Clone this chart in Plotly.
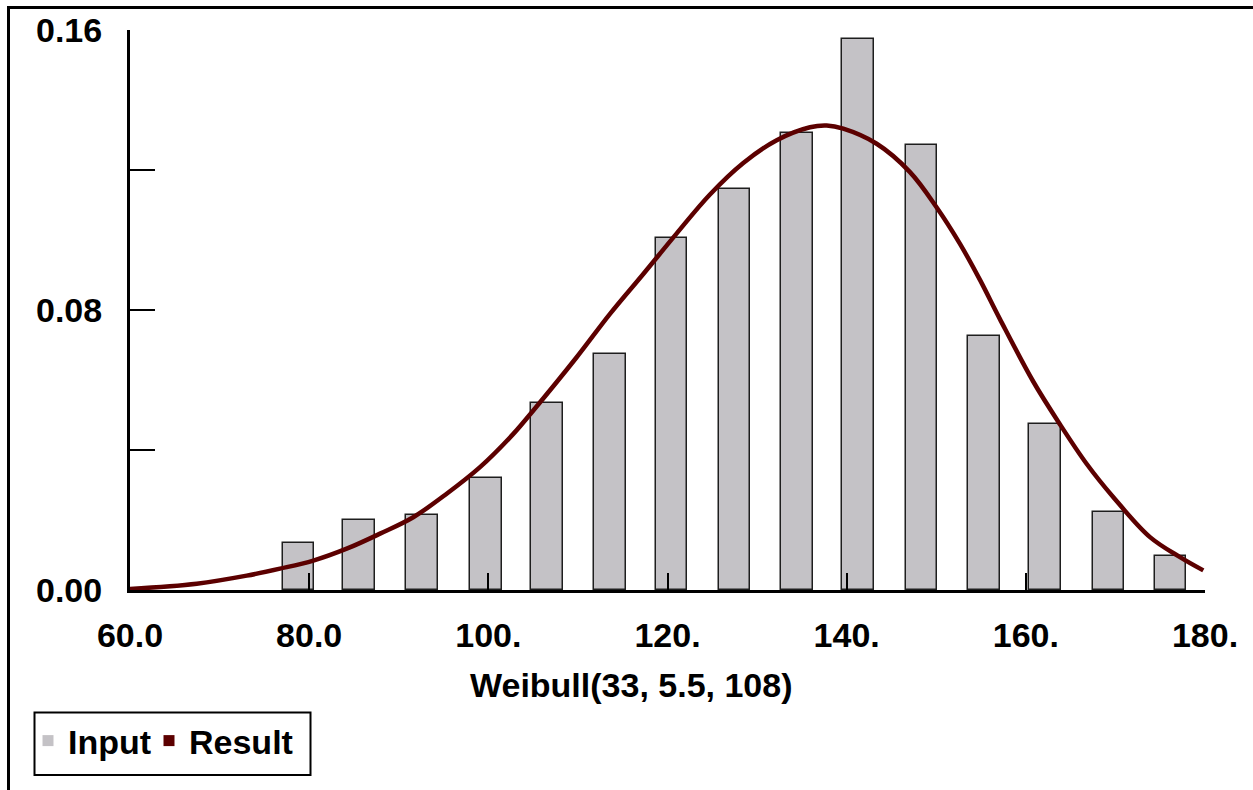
import plotly.graph_objects as go

# ---- data ----
bin_centers = [78.81, 85.56, 92.60, 99.74, 106.55, 113.58, 120.45, 127.48,
               134.46, 141.27, 148.35, 155.33, 162.14, 169.23, 176.15]
input_density = [0.0134, 0.0201, 0.0213, 0.0321, 0.0535, 0.0675, 0.1007, 0.1147,
                 0.1305, 0.1575, 0.1272, 0.0725, 0.0473, 0.0224, 0.0096]

curve_x = [60.0, 67.45, 73.03, 76.74, 80.46, 84.19, 87.91, 91.62, 95.35, 99.07,
           102.79, 105.02, 109.86, 113.58, 117.30, 121.03, 124.74, 128.46, 132.19,
           135.91, 137.77, 139.62, 143.35, 147.07, 150.05, 152.65, 154.88, 157.11,
           160.84, 163.82, 166.80, 169.77, 173.86, 177.21, 179.81]
curve_y = [0.0003, 0.0018, 0.0041, 0.0061, 0.0084, 0.0118, 0.0161, 0.0208, 0.0275,
           0.0351, 0.0446, 0.0513, 0.0665, 0.0789, 0.0903, 0.1019, 0.1130, 0.1220,
           0.1285, 0.1322, 0.1327, 0.1318, 0.1275, 0.1194, 0.1093, 0.0989, 0.0886,
           0.0774, 0.0595, 0.0473, 0.0360, 0.0265, 0.0151, 0.0094, 0.0056]

x_ticks = [60, 80, 100, 120, 140, 160, 180]
x_tick_labels = ["60.0", "80.0", "100.", "120.", "140.", "160.", "180."]
y_ticks = [0.0, 0.04, 0.08, 0.12, 0.16]
y_tick_labels = ["0.00", "", "0.08", "", "0.16"]
x_title = "Weibull(33, 5.5, 108)"
series_names = ["Input", "Result"]

BAR_FILL = "#c4c2c6"
CURVE = "#5c0000"
FONT = dict(family="Liberation Sans, Arial, sans-serif", size=34, color="black", weight="bold")

# layout geometry (pixels)
W, H = 1253, 790
L, R, T, B = 130, 48, 30, 200
PW, PH = W - L - R, H - T - B

def px_x(p):
    return (p - L) / PW

def px_y(p):
    return (H - B - p) / PH

fig = go.Figure()

fig.add_trace(go.Bar(
    x=bin_centers, y=input_density, width=3.5,
    marker=dict(color=BAR_FILL, line=dict(color="#1e1e1e", width=1.5)),
    showlegend=False, name=series_names[0],
))
fig.add_trace(go.Scatter(
    x=curve_x, y=curve_y, mode="lines",
    line=dict(color=CURVE, width=4.5, shape="spline", smoothing=1.0),
    showlegend=False, name=series_names[1],
))
# legend entries (square markers)
fig.add_trace(go.Scatter(x=[None], y=[None], mode="markers", name=series_names[0],
                         legendwidth=76,
                         marker=dict(symbol="square", size=11, color=BAR_FILL)))
fig.add_trace(go.Scatter(x=[None], y=[None], mode="markers", name=series_names[1],
                         marker=dict(symbol="square", size=11, color=CURVE)))

fig.update_layout(
    width=W, height=H,
    margin=dict(l=L, r=R, t=T, b=B, autoexpand=False),
    paper_bgcolor="white", plot_bgcolor="white",
    font=FONT,
    bargap=0,
    showlegend=True,
    legend=dict(
        orientation="h", x=px_x(28), y=px_y(712), xanchor="left", yanchor="top",
        bgcolor="rgba(0,0,0,0)", borderwidth=0, font=FONT,
    ),
    xaxis=dict(
        range=[60, 180], tickvals=x_ticks, ticktext=x_tick_labels,
        showline=True, linewidth=3, linecolor="black", mirror=False,
        ticks="inside", ticklen=17, tickwidth=2, tickcolor="black",
        showgrid=False, zeroline=False, tickfont=FONT, ticklabelstandoff=13,
    ),
    yaxis=dict(
        range=[0, 0.16], tickvals=y_ticks, ticktext=y_tick_labels,
        showline=True, linewidth=3, linecolor="black",
        ticks="inside", ticklen=25, tickwidth=2, tickcolor="black",
        showgrid=False, zeroline=False, tickfont=FONT, ticklabelstandoff=18,
    ),
    annotations=[dict(
        text=x_title, xref="paper", yref="paper",
        x=px_x(631), y=px_y(685), xanchor="center", yanchor="middle",
        showarrow=False, font=FONT,
    )],
    shapes=[
        # outer frame
        dict(type="rect", xref="paper", yref="paper",
             x0=px_x(8.5), x1=px_x(1256), y0=px_y(793), y1=px_y(7.5),
             line=dict(color="black", width=3), fillcolor="rgba(0,0,0,0)", layer="above"),
        # legend box
        dict(type="rect", xref="paper", yref="paper",
             x0=px_x(34.5), x1=px_x(310.5), y0=px_y(775), y1=px_y(712.5),
             line=dict(color="black", width=2), fillcolor="rgba(0,0,0,0)", layer="above"),
    ],
)

fig.write_html("out.html")
